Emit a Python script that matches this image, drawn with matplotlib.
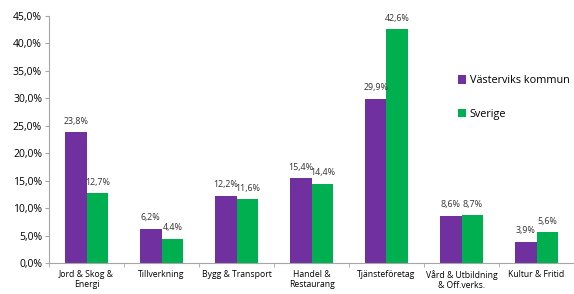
import numpy as np
import matplotlib.pyplot as plt
from matplotlib.ticker import FuncFormatter

plt.rcParams['font.family'] = ['Open Sans', 'DejaVu Sans']

categories = ["Jord & Skog &\nEnergi", "Tillverkning", "Bygg & Transport",
              "Handel &\nRestaurang", "Tjänsteföretag",
              "Vård & Utbildning\n& Off.verks.", "Kultur & Fritid"]
vastervik = [23.8, 6.2, 12.2, 15.4, 29.9, 8.6, 3.9]
sverige = [12.7, 4.4, 11.6, 14.4, 42.6, 8.7, 5.6]
series_names = ["Västerviks kommun", "Sverige"]

purple = "#7030a0"
green = "#00b050"
grey = "#a6a6a6"

fig = plt.figure(figsize=(5.74, 2.94), dpi=100)
ax = fig.add_axes([49 / 574, 31 / 294, 525 / 574, 247 / 294])

x = np.arange(len(categories))
w = 0.29
b1 = ax.bar(x - w / 2, vastervik, w, color=purple, label=series_names[0])
b2 = ax.bar(x + w / 2, sverige, w, color=green, label=series_names[1])


def pct(v):
    return f"{v:.1f}%".replace(".", ",")


for bars, vals in ((b1, vastervik), (b2, sverige)):
    for r, v in zip(bars, vals):
        ax.text(r.get_x() + r.get_width() / 2, v + 1.2, pct(v),
                ha="center", va="bottom", fontsize=6.4, color="#333333")

ax.set_xlim(-0.5, len(categories) - 0.5)
ax.set_ylim(0, 45)
ax.set_yticks(np.arange(0, 46, 5))
ax.yaxis.set_major_formatter(FuncFormatter(lambda v, p: pct(v)))
ax.tick_params(axis="y", labelsize=7.5, length=3, color=grey, pad=2)

ax.set_xticks(x)
ax.set_xticklabels(categories, fontsize=6.2)
ax.set_xticks(np.arange(-0.5, len(categories), 1), minor=True)
ax.tick_params(axis="x", which="major", length=0, pad=5)
ax.tick_params(axis="x", which="minor", length=3, color=grey)

for s in ("top", "right"):
    ax.spines[s].set_visible(False)
for s in ("left", "bottom"):
    ax.spines[s].set_color(grey)
    ax.spines[s].set_linewidth(0.8)

ax.legend(loc="upper left", bbox_to_anchor=(0.76, 0.8), frameon=False,
          fontsize=7.8, handlelength=0.8, handleheight=0.8,
          handletextpad=0.3, labelspacing=2.1)

fig.savefig("out.png", dpi=100)
